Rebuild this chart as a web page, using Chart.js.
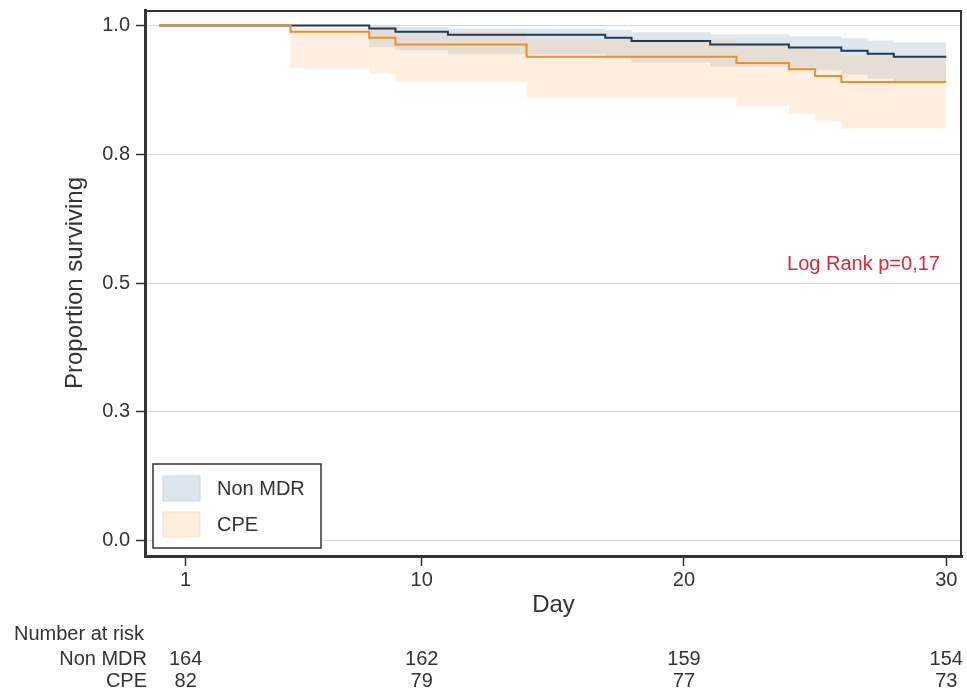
<!DOCTYPE html>
<html>
<head>
<meta charset="utf-8">
<script src="https://cdn.jsdelivr.net/npm/chart.js@4.4.1/dist/chart.umd.min.js"></script>
<style>
  body { margin: 0; background: #fff; }
  canvas { display: block; }
</style>
</head>
<body>
<canvas id="grafica" width="967" height="695"></canvas>
<script>
// Kaplan-Meier steps (day of event, survival, 95% CI)
const diasNonMDR = [0, 8, 9, 11, 17, 18, 21, 24, 26, 27, 28, 30];
const survNonMDR = [1, 0.994, 0.988, 0.982, 0.976, 0.970, 0.963, 0.957, 0.951, 0.945, 0.939, 0.939];
const bajoNonMDR = [1, 0.958, 0.952, 0.944, 0.936, 0.928, 0.920, 0.913, 0.905, 0.897, 0.890, 0.890];
const altoNonMDR = [1, 0.999, 0.997, 0.994, 0.991, 0.987, 0.983, 0.979, 0.975, 0.971, 0.967, 0.967];

const diasCPE = [0, 5, 8, 9, 14, 22, 24, 25, 26, 30];
const survCPE = [1, 0.988, 0.976, 0.963, 0.939, 0.927, 0.915, 0.902, 0.890, 0.890];
const bajoCPE = [1, 0.917, 0.906, 0.891, 0.860, 0.844, 0.829, 0.814, 0.800, 0.800];
const altoCPE = [1, 0.998, 0.994, 0.988, 0.974, 0.966, 0.958, 0.950, 0.941, 0.941];

const xTicks = [1, 10, 20, 30];
const yTicks = [0, 0.25, 0.5, 0.75, 1];

const riskDias = [1, 10, 20, 30];
const riskNonMDR = [164, 162, 159, 154];
const riskCPE = [82, 79, 77, 73];

const logRank = "Log Rank p=0,17";

const FONT = '"Liberation Sans", Arial, Helvetica, sans-serif';
const TXT = '#333';
const AZUL = '#1f3a5a';
const NARANJA = '#e8912d';
const BANDA_AZUL = 'rgba(150,175,200,0.3)';
const BANDA_NARANJA = 'rgba(250,190,130,0.25)';

function puntos(dias, vals) {
  return dias.map((d, i) => ({ x: d, y: vals[i] }));
}

function banda(dias, vals, color, relleno, orden) {
  return {
    label: '',
    data: puntos(dias, vals),
    stepped: true,
    borderWidth: 0,
    pointRadius: 0,
    backgroundColor: color,
    fill: relleno,
    order: orden
  };
}

const extras = {
  id: 'extras',
  afterDraw(chart) {
    const ctx = chart.ctx;
    const a = chart.chartArea;
    const xs = chart.scales.x, ys = chart.scales.y;
    ctx.save();

    // top / right frame
    ctx.strokeStyle = '#333';
    ctx.lineWidth = 2;
    ctx.beginPath();
    ctx.moveTo(a.left, a.top + 1);
    ctx.lineTo(a.right - 1, a.top + 1);
    ctx.lineTo(a.right - 1, a.bottom);
    ctx.stroke();

    // log rank label
    ctx.font = '20px ' + FONT;
    ctx.fillStyle = '#d42b3c';
    ctx.textAlign = 'right';
    ctx.textBaseline = 'middle';
    ctx.fillText(logRank, xs.getPixelForValue(29.76), ys.getPixelForValue(0.535));

    // legend box
    const lx = a.left + 8, ly = a.bottom - 92;
    ctx.fillStyle = '#fff';
    ctx.fillRect(lx, ly, 168, 84);
    ctx.strokeStyle = '#333';
    ctx.lineWidth = 1.5;
    ctx.strokeRect(lx, ly, 168, 84);
    const items = [['Non MDR', '#dde5ee', '#cfd8e2'], ['CPE', '#fdeddc', '#f6e2cc']];
    items.forEach((it, i) => {
      const sy = ly + 12 + i * 36;
      ctx.fillStyle = it[1];
      ctx.fillRect(lx + 10, sy, 37, 25);
      ctx.strokeStyle = it[2];
      ctx.lineWidth = 1;
      ctx.strokeRect(lx + 10, sy, 37, 25);
      ctx.fillStyle = TXT;
      ctx.textAlign = 'left';
      ctx.textBaseline = 'middle';
      ctx.fillText(it[0], lx + 64, sy + 13);
    });

    // number at risk table
    ctx.fillStyle = TXT;
    ctx.textBaseline = 'middle';
    ctx.textAlign = 'left';
    ctx.fillText('Number at risk', 14, 634);
    ctx.textAlign = 'right';
    ctx.fillText('Non MDR', 147, 659);
    ctx.fillText('CPE', 147, 681);
    ctx.textAlign = 'center';
    riskDias.forEach((d, i) => {
      const px = xs.getPixelForValue(d);
      ctx.fillText(String(riskNonMDR[i]), px, 659);
      ctx.fillText(String(riskCPE[i]), px, 681);
    });
    ctx.restore();
  }
};

const ctx = document.getElementById('grafica').getContext('2d');
new Chart(ctx, {
  type: 'line',
  data: {
    datasets: [
      banda(diasNonMDR, altoNonMDR, BANDA_AZUL, '+1', 20),
      banda(diasNonMDR, bajoNonMDR, 'transparent', false, 20),
      banda(diasCPE, altoCPE, BANDA_NARANJA, '+1', 10),
      banda(diasCPE, bajoCPE, 'transparent', false, 10),
      {
        label: 'Non MDR',
        data: puntos(diasNonMDR, survNonMDR),
        stepped: true,
        borderColor: AZUL,
        borderWidth: 2,
        pointRadius: 0,
        fill: false,
        order: 2
      },
      {
        label: 'CPE',
        data: puntos(diasCPE, survCPE),
        stepped: true,
        borderColor: NARANJA,
        borderWidth: 2,
        pointRadius: 0,
        fill: false,
        order: 1
      }
    ]
  },
  options: {
    responsive: false,
    animation: false,
    layout: { padding: { top: 10, right: 5, left: 0, bottom: 75 } },
    plugins: {
      legend: { display: false },
      tooltip: { enabled: false }
    },
    scales: {
      x: {
        type: 'linear',
        min: -0.55,
        max: 30.6,
        afterBuildTicks: s => { s.ticks = xTicks.map(v => ({ value: v })); },
        afterFit: s => { s.height = 64; s.paddingLeft = 0; s.paddingRight = 0; },
        ticks: {
          color: TXT,
          font: { family: FONT, size: 20 },
          padding: 2,
          maxRotation: 0,
          callback: v => String(v)
        },
        grid: { drawOnChartArea: false, tickLength: 10, tickColor: '#333', tickWidth: 1.5 },
        border: { color: '#333', width: 3 },
        title: {
          display: true,
          text: 'Day',
          color: TXT,
          font: { family: FONT, size: 24 },
          padding: { top: 0, bottom: 0 }
        }
      },
      y: {
        min: -0.03,
        max: 1.03,
        afterBuildTicks: s => { s.ticks = yTicks.map(v => ({ value: v })); },
        afterFit: s => { s.width = 145; s.paddingTop = 0; s.paddingBottom = 0; },
        ticks: {
          color: TXT,
          font: { family: FONT, size: 20 },
          padding: 6,
          callback: v => v.toFixed(1)
        },
        grid: { color: '#d9d9d9', lineWidth: 1, tickLength: 9, tickColor: '#333', tickWidth: 1.5 },
        border: { color: '#333', width: 3 },
        title: {
          display: true,
          text: 'Proportion surviving',
          color: TXT,
          font: { family: FONT, size: 24 },
          padding: { top: 61, bottom: 0 }
        }
      }
    }
  },
  plugins: [extras]
});
</script>
</body>
</html>
